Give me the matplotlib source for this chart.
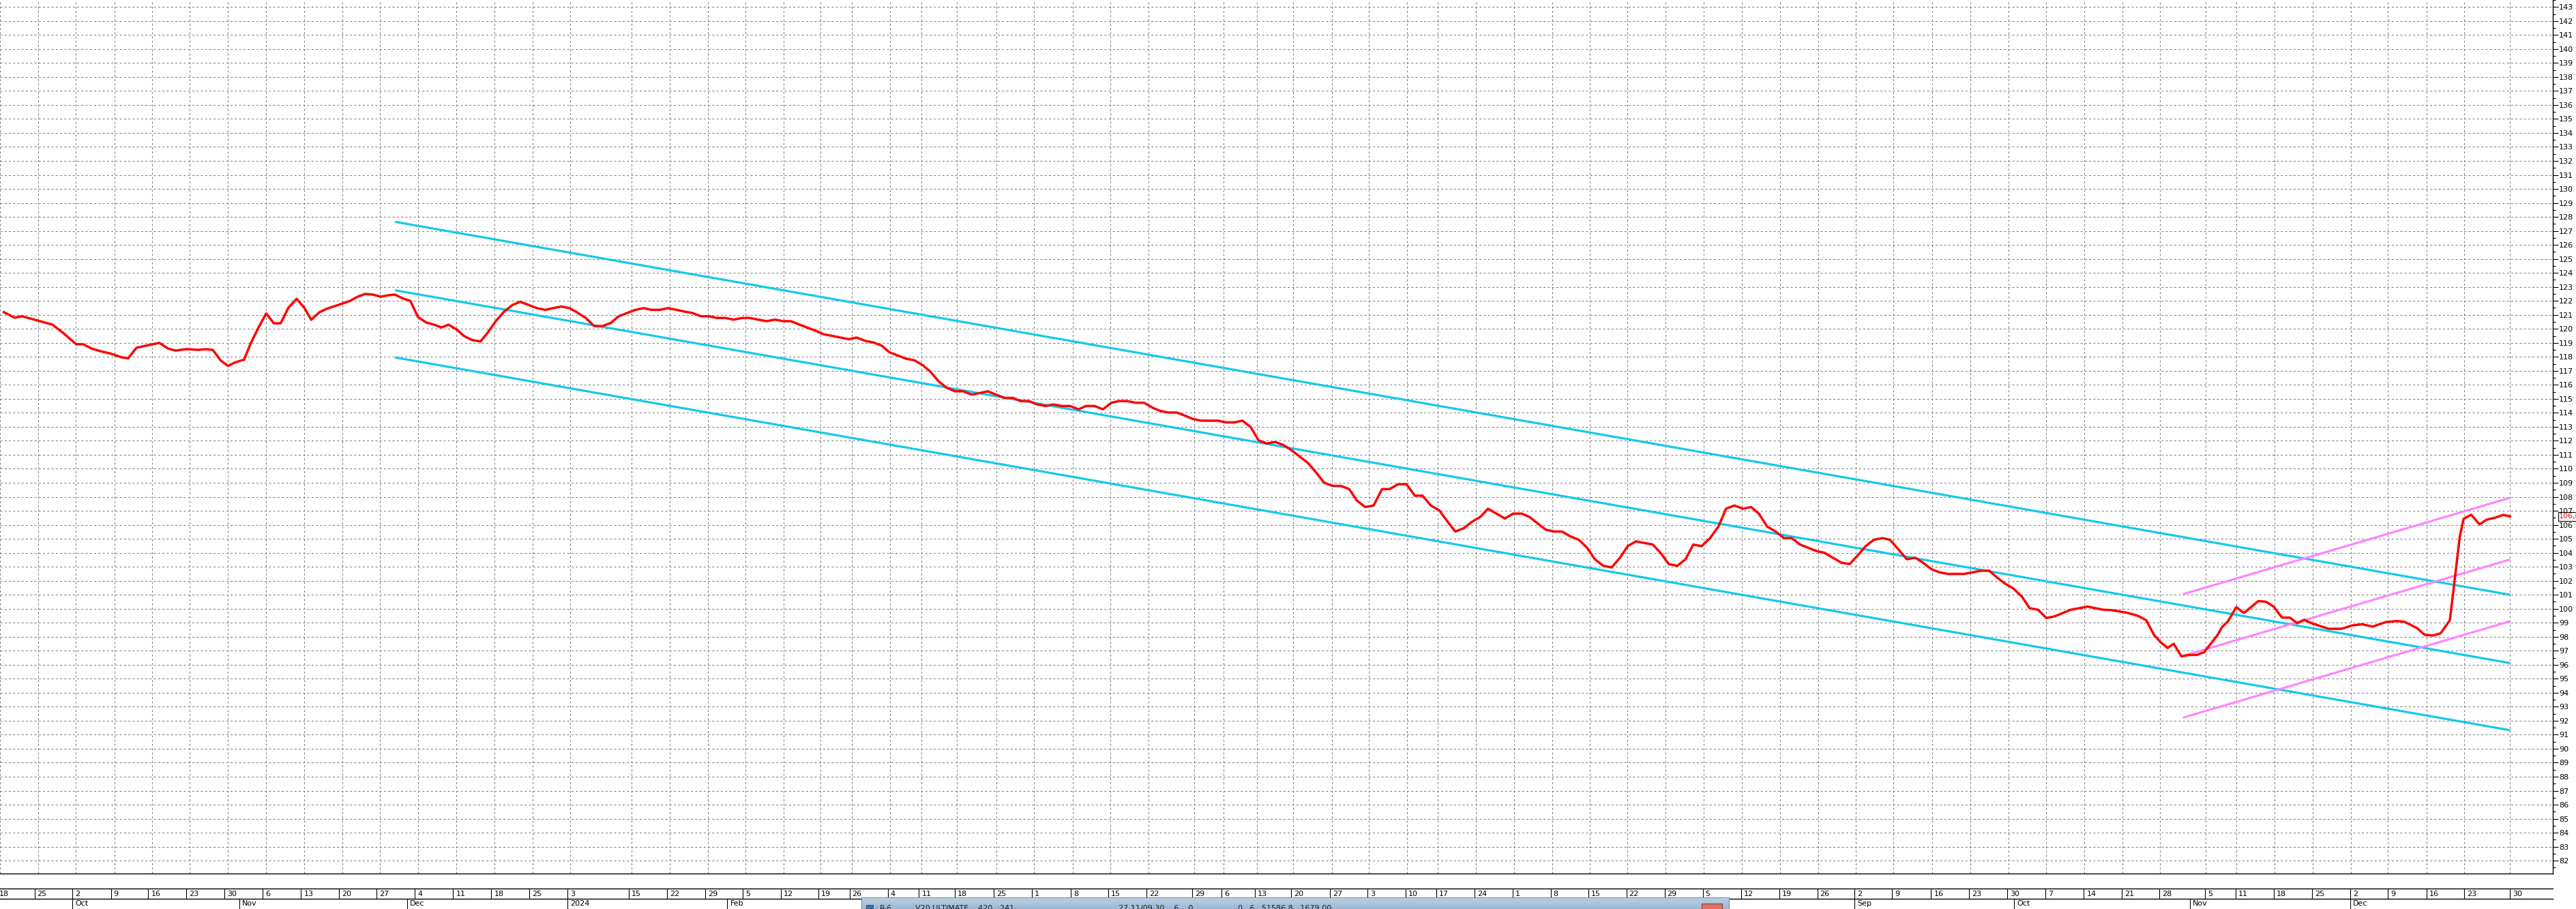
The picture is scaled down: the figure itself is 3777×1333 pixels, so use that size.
import numpy as np
import matplotlib
matplotlib.use('Agg')
import matplotlib.pyplot as plt
from matplotlib import font_manager
from matplotlib.patches import Rectangle
from matplotlib.transforms import offset_copy

# trading day index (0 = 18 Sep 2023) and close
day = [0.5, 1.9, 2.9, 4.9, 6.9, 8.3, 10.0, 10.9, 12.0, 13.2, 14.4, 16.0, 16.8, 17.9, 20.0, 20.9,
       22.0, 23.0, 24.4, 26.0, 27.0, 27.9, 28.9, 29.9, 30.8, 32.0, 32.9, 33.9, 34.9, 35.9, 36.8,
       37.8, 38.9, 39.9, 40.8, 41.9, 42.9, 44.3, 45.9, 46.9, 47.9, 48.9, 49.9, 50.9, 51.8, 52.7,
       53.8, 54.8, 55.9, 56.9, 57.9, 58.8, 59.9, 60.8, 61.9, 63.0, 63.9, 65.0, 66.1, 67.2, 68.2,
       69.3, 70.4, 71.5, 72.5, 73.6, 74.7, 75.8, 76.8, 77.9, 79.0, 80.1, 81.1, 82.2, 83.3, 84.4,
       85.4, 86.5, 87.6, 88.7, 89.7, 90.8, 91.9, 93.0, 94.0, 95.1, 96.2, 97.3, 98.3, 99.4, 100.5,
       101.6, 102.7, 103.7, 104.8, 105.9, 107.0, 108.0, 109.1, 110.2, 111.3, 112.3, 113.4, 114.5,
       115.6, 116.6, 117.7, 118.8, 119.9, 121.0, 122.0, 123.1, 124.2, 125.2, 126.3, 127.4, 128.5,
       129.5, 130.6, 131.7, 132.8, 133.8, 134.9, 136.0, 137.1, 138.1, 139.2, 140.3, 141.4, 142.4,
       143.5, 144.6, 145.7, 146.7, 147.8, 148.9, 150.0, 151.1, 152.1, 153.2, 154.3, 155.4, 156.4,
       157.5, 158.6, 159.7, 160.7, 161.8, 162.9, 164.0, 165.0, 166.1, 167.2, 168.3, 169.3, 170.4,
       171.5, 172.6, 173.6, 174.7, 175.8, 176.9, 177.9, 179.0, 180.1, 181.2, 182.2, 183.3, 184.4,
       185.5, 186.5, 187.6, 188.7, 189.8, 190.8, 191.9, 193.0, 194.1, 195.1, 196.2, 197.3, 198.4,
       199.5, 200.5, 201.6, 202.7, 203.8, 204.8, 205.9, 207.0, 208.1, 209.1, 210.2, 211.3, 212.4,
       213.4, 214.5, 215.6, 216.7, 217.7, 218.8, 219.9, 221.0, 222.0, 223.1, 224.2, 225.3, 226.3,
       227.4, 228.5, 229.6, 230.6, 231.7, 232.8, 233.9, 234.9, 236.0, 237.1, 238.2, 239.2, 240.3,
       241.4, 242.5, 243.5, 244.6, 245.7, 246.8, 247.8, 248.9, 250.0, 251.1, 252.1, 253.2, 254.3,
       255.4, 256.4, 257.5, 258.6, 259.7, 260.8, 261.8, 262.9, 264.0, 265.1, 266.1, 267.2, 268.3,
       269.4, 270.4, 271.5, 272.6, 273.7, 274.7, 275.8, 276.9, 278.0, 279.0, 280.3, 281.4, 282.4,
       283.3, 284.2, 285.0, 286.0, 287.0, 288.0, 289.0, 290.0, 290.7, 291.3, 292.1, 293.2, 294.2,
       296.1, 297.1, 298.1, 299.2, 300.2, 301.2, 302.1, 303.2, 305.3, 307.0, 308.4, 309.7, 311.1,
       312.8, 314.2, 315.2, 316.9, 317.9, 319.0, 320.0, 321.2, 321.7, 322.5, 323.0, 324.0, 325.1,
       326.0, 327.2, 328.2, 329.1]
price = [121.2, 120.8, 120.9, 120.6, 120.3, 119.7, 118.9, 118.9, 118.6, 118.4, 118.25, 117.96,
         117.9, 118.65, 118.9, 119.0, 118.6, 118.45, 118.55, 118.5, 118.55, 118.5, 117.76, 117.35,
         117.6, 117.8, 119.0, 120.1, 121.1, 120.4, 120.4, 121.5, 122.15, 121.5, 120.65, 121.2,
         121.45, 121.7, 122.0, 122.3, 122.5, 122.45, 122.3, 122.4, 122.45, 122.2, 122.0, 120.85,
         120.45, 120.3, 120.1, 120.3, 119.95, 119.5, 119.2, 119.1, 119.7, 120.55, 121.24, 121.71,
         121.94, 121.71, 121.48, 121.36, 121.48, 121.6, 121.48, 121.13, 120.78, 120.2, 120.2,
         120.43, 120.9, 121.13, 121.36, 121.48, 121.36, 121.36, 121.48, 121.36, 121.24, 121.13,
         120.9, 120.9, 120.78, 120.78, 120.66, 120.78, 120.78, 120.66, 120.55, 120.66, 120.55,
         120.55, 120.31, 120.08, 119.85, 119.61, 119.5, 119.38, 119.26, 119.38, 119.15, 119.03,
         118.8, 118.33, 118.1, 117.87, 117.75, 117.4, 116.93, 116.23, 115.77, 115.54, 115.54,
         115.3, 115.42, 115.54, 115.3, 115.07, 115.07, 114.84, 114.84, 114.6, 114.49, 114.6,
         114.49, 114.49, 114.25, 114.49, 114.49, 114.25, 114.72, 114.84, 114.84, 114.72, 114.72,
         114.37, 114.14, 114.02, 114.02, 113.79, 113.56, 113.44, 113.44, 113.44, 113.32, 113.32,
         113.44, 112.97, 112.04, 111.81, 111.92, 111.69, 111.34, 110.88, 110.41, 109.71, 109.01,
         108.78, 108.78, 108.55, 107.73, 107.27, 107.38, 108.55, 108.55, 108.9, 108.9, 108.08,
         108.08, 107.38, 107.03, 106.22, 105.52, 105.75, 106.22, 106.57, 107.15, 106.8, 106.45,
         106.8, 106.8, 106.57, 106.1, 105.64, 105.52, 105.52, 105.17, 104.93, 104.35, 103.54,
         103.07, 102.95, 103.65, 104.47, 104.82, 104.7, 104.59, 104.0, 103.19, 103.07, 103.54,
         104.59, 104.47, 105.05, 105.87, 107.15, 107.38, 107.15, 107.27, 106.8, 105.87, 105.52,
         105.05, 105.05, 104.59, 104.35, 104.12, 104.0, 103.65, 103.3, 103.19, 103.77, 104.47,
         104.93, 105.05, 104.93, 104.24, 103.54, 103.65, 103.3, 102.84, 102.6, 102.49, 102.49,
         102.49, 102.6, 102.72, 102.72, 102.25, 101.79, 101.44, 100.86, 100.04, 99.93, 99.34,
         99.46, 99.69, 99.93, 100.04, 100.16, 100.04, 99.93, 99.9, 99.8, 99.7, 99.5, 99.18, 98.14,
         97.6, 97.2, 97.5, 96.6, 96.7, 96.7, 96.9, 97.6, 98.09, 98.67, 99.1, 100.12, 99.7, 100.55,
         100.5, 100.15, 99.37, 99.37, 98.97, 99.21, 98.94, 98.57, 98.57, 98.81, 98.89, 98.73,
         99.05, 99.12, 99.08, 98.62, 98.14, 98.09, 98.25, 99.18, 101.44, 105.15, 106.43, 106.72,
         106.03, 106.36, 106.52, 106.71, 106.6]
last_label = '106,6'

# channel lines (start day, end day) and values
cyan_days = [51.8, 329.1]
cyan_top = [127.65, 101.0]
cyan_mid = [122.76, 96.12]
cyan_low = [117.96, 91.32]
pink_days = [286.2, 329.1]
pink_top = [101.04, 107.93]
pink_mid = [96.63, 103.52]
pink_low = [92.22, 99.11]

week_pos = [0, 5.0, 9.96, 15.0, 19.9, 24.9, 29.9, 34.9, 39.9, 44.9, 49.8, 54.8, 59.8, 64.8, 69.8,
            74.8, 82.8, 87.8, 92.8, 97.75, 102.7, 107.6, 111.7, 116.7, 120.8, 125.5, 130.6, 135.6,
            140.7, 145.6, 150.6, 156.6, 160.4, 164.8, 169.5, 174.6, 179.5, 184.5, 188.5, 193.5,
            198.5, 203.5, 208.4, 213.4, 218.4, 223.4, 228.4, 233.4, 238.4, 243.3, 248.2, 253.3,
            258.3, 263.3, 268.3, 273.3, 278.3, 283.2, 289.2, 293.2, 298.2, 303.2, 308.2, 313.1,
            318.2, 323.1, 329.1]
week_lbl = ['18', '25', '2', '9', '16', '23', '30', '6', '13', '20', '27', '4', '11', '18', '25',
            '3', '15', '22', '29', '5', '12', '19', '26', '4', '11', '18', '25', '1', '8', '15',
            '22', '29', '6', '13', '20', '27', '3', '10', '17', '24', '1', '8', '15', '22', '29',
            '5', '12', '19', '26', '2', '9', '16', '23', '30', '7', '14', '21', '28', '5', '11',
            '18', '25', '2', '9', '16', '23', '30']
month_pos = [9.96, 31.8, 53.8, 74.8, 95.7, 115.7, 135.6, 158.6, 179.5, 198.5, 221.4, 243.3,
             264.2, 287.2, 308.2]
month_lbl = ['Oct', 'Nov', 'Dec', '2024', 'Feb', 'Mar', 'Apr', 'May', 'Jun', 'Jul', 'Aug', 'Sep',
             'Oct', 'Nov', 'Dec']

# text of the window title that covers part of the date scale
title_bits = [(1290, 'R-6'), (1342, 'V20 ULTIMATE'), (1434, '420  :241'),
              (1640, '27.11/09.30    6    0'), (1815, '0   6   51586.8   1679.00')]

names = set(f.name for f in font_manager.fontManager.ttflist)
if 'Liberation Sans Narrow' in names:
    fam, fs = 'Liberation Sans Narrow', 10
else:
    fam, fs = 'DejaVu Sans', 8
plt.rcParams['font.family'] = [fam, 'DejaVu Sans']

W, H = 3777, 1333
fig = plt.figure(figsize=(W / 100, H / 100), dpi=100)
fig.patch.set_facecolor('white')
ax = fig.add_axes([0, 1 - 1281 / H, 3743 / W, 1281 / H])
ax.set_xlim(0.48, 334.7)
ax.set_ylim(81.08, 143.03)
ax.set_axisbelow(True)

for s in ['top', 'left']:
    ax.spines[s].set_visible(False)
for s in ['bottom', 'right']:
    ax.spines[s].set_linewidth(1.0)
    ax.spines[s].set_color('black')

ax.yaxis.tick_right()
ax.set_yticks(np.arange(82, 144))
ax.set_yticks(np.arange(81.5, 143.6, 1), minor=True)
ax.tick_params(axis='y', which='major', direction='out', length=5.8, width=0.8, pad=0.5,
               labelsize=fs, colors='black')
ax.tick_params(axis='y', which='minor', direction='out', length=2.9, width=0.8)
ax.set_xticks(week_pos)
ax.tick_params(axis='x', length=0, labelbottom=False)
ax.grid(True, which='major', color='#808080', linestyle=(0, (3, 3)), linewidth=0.75)

ax.plot(cyan_days, cyan_top, color='#14c8ec', lw=2.3, solid_capstyle='butt')
ax.plot(cyan_days, cyan_mid, color='#14c8ec', lw=2.3, solid_capstyle='butt')
ax.plot(cyan_days, cyan_low, color='#14c8ec', lw=2.3, solid_capstyle='butt')
ax.plot(pink_days, pink_top, color='#ff84ff', lw=2.3, solid_capstyle='butt')
ax.plot(pink_days, pink_mid, color='#ff84ff', lw=2.3, solid_capstyle='butt')
ax.plot(pink_days, pink_low, color='#ff84ff', lw=2.3, solid_capstyle='butt')
ax.plot(day, price, color='#ff0000', lw=2.5, solid_joinstyle='round')

ax.annotate(last_label, xy=(1, price[-1]), xycoords=('axes fraction', 'data'),
            xytext=(9, 0), textcoords='offset pixels', color='#ff0000', fontsize=fs,
            va='center', ha='left', annotation_clip=False, zorder=10,
            bbox=dict(boxstyle='square,pad=0.12', fc='white', ec='black', lw=0.8))

# date scale below the chart
axd = fig.add_axes([0, 0, 3743 / W, 30 / H])
axd.set_xlim(0.48, 334.7)
axd.set_ylim(0, 2)
axd.axis('off')
axd.axhline(2, color='black', lw=1.0, clip_on=False)
axd.axhline(1, color='black', lw=1.0, clip_on=False)
axd.vlines(week_pos, 1, 2, color='black', lw=0.8)
axd.vlines(month_pos, 0, 1, color='black', lw=0.8)
tr = offset_copy(axd.transData, fig=fig, x=4, y=0, units='dots')
for p, t in zip(week_pos, week_lbl):
    axd.text(p, 1.5, t, transform=tr, fontsize=fs, va='center', ha='left', clip_on=False)
for p, t in zip(month_pos, month_lbl):
    axd.text(p, 0.5, t, transform=tr, fontsize=fs, va='center', ha='left', clip_on=False)

# dialog window peeking in at the bottom edge
axw = fig.add_axes([1263 / W, 0, (2535 - 1263) / W, 17 / H])
grad = np.linspace(0, 1, 20).reshape(-1, 1)
axw.imshow(grad, aspect='auto', cmap=matplotlib.colors.LinearSegmentedColormap.from_list(
    'tb', ['#9cb8d3', '#bcd0e4']), extent=[0, 1, 0, 1], origin='lower')
axw.set_xlim(0, 1)
axw.set_ylim(0, 1)
axw.set_xticks([])
axw.set_yticks([])
for s in axw.spines.values():
    s.set_color('#6f8fb0')
axw.add_patch(Rectangle(((2495 - 1263) / 1272, 0), 30 / 1272, 8 / 17, fc='#d8745f',
                        ec='#8a3b30', lw=0.8))
axw.add_patch(Rectangle(((1270 - 1263) / 1272, 0), 10 / 1272, 6 / 17, fc='#3a6ea5',
                        ec='#25476c', lw=0.6))
for px, t in title_bits:
    fig.text(px / W, 6 / H, t, fontsize=fs, color='#1c1c1c', va='top', ha='left')

fig.savefig('out.png', dpi=100, facecolor='white')
